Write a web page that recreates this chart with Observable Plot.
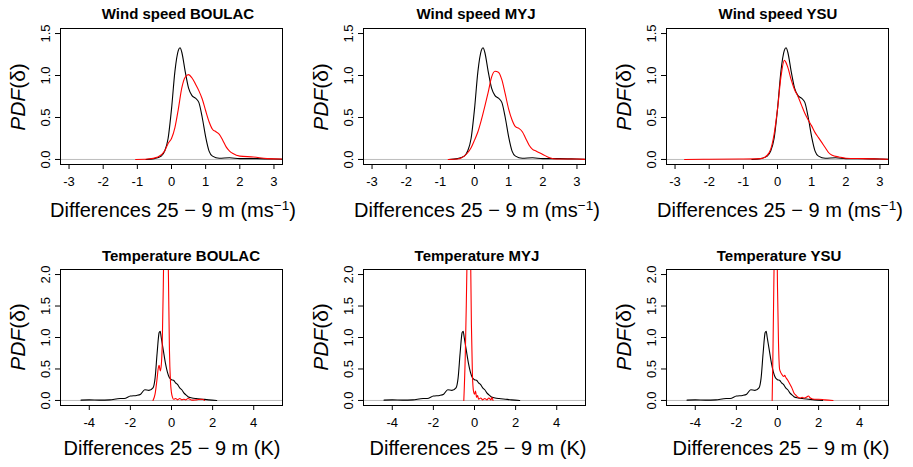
<!DOCTYPE html>
<html><head><meta charset="utf-8">
<script src="https://cdn.jsdelivr.net/npm/d3@7"></script>
<script src="https://cdn.jsdelivr.net/npm/@observablehq/plot@0.6"></script>
<style>
body{margin:0;background:#fff;}
#fig{position:relative;width:913px;height:467px;font-family:"Liberation Sans",Arial,Helvetica,sans-serif;color:#000;overflow:hidden;background:#fff}
.panel{position:absolute}
.title{position:absolute;font-weight:bold;font-size:15px;white-space:nowrap;transform:translate(-50%,-50%);line-height:1}
.xlab{position:absolute;font-size:20px;white-space:nowrap;transform:translate(-50%,-50%);line-height:1}
.xlab sup{font-size:0.68em;vertical-align:0.55em;line-height:0}
.ylab{position:absolute;font-size:21px;white-space:nowrap;transform:translate(-50%,-50%) rotate(-90deg);line-height:1}
</style></head><body><div id="fig"></div><script>
// ---- data ----
const titlesWind = ["Wind speed BOULAC", "Wind speed MYJ", "Wind speed YSU"];
const titlesTemp = ["Temperature BOULAC", "Temperature MYJ", "Temperature YSU"];
const windTicksX = [-3, -2, -1, 0, 1, 2, 3];
const windTicksY = [0, 0.5, 1, 1.5];
const tempTicksX = [-4, -2, 0, 2, 4];
const tempTicksY = [0, 0.5, 1, 1.5, 2];

// observed wind difference PDF (black)
const windObsX = [-0.75,-0.5,-0.3,-0.2,-0.1,0.0,0.1,0.2,0.25,0.3,0.4,0.5,0.6,0.7,0.8,0.9,1.0,1.1,1.2,1.4,1.7,2.0,2.5,3.0,3.3];
const windObsY = [0,0.01,0.04,0.1,0.25,0.6,1.05,1.3,1.33,1.28,1.05,0.85,0.76,0.73,0.68,0.5,0.27,0.1,0.04,0.015,0.02,0.01,0.01,0.005,0.002];
// modelled wind (red)
const windBoulacX = [-1.05,-0.7,-0.4,-0.2,-0.1,0.0,0.1,0.2,0.3,0.4,0.5,0.6,0.7,0.8,0.9,1.0,1.1,1.2,1.3,1.4,1.5,1.6,1.7,1.8,2.0,2.4,2.8,3.3];
const windBoulacY = [0,0.005,0.03,0.1,0.19,0.25,0.38,0.6,0.85,0.98,1.01,0.97,0.9,0.82,0.72,0.58,0.45,0.36,0.33,0.3,0.23,0.15,0.1,0.07,0.04,0.03,0.01,0.005];
const windMyjX = [-0.77,-0.5,-0.3,-0.2,-0.1,0.0,0.1,0.2,0.3,0.4,0.5,0.6,0.7,0.8,0.9,1.0,1.1,1.2,1.3,1.4,1.5,1.6,1.7,1.8,1.9,2.0,2.2,2.4,3.0,3.3];
const windMyjY = [0,0.005,0.04,0.08,0.14,0.23,0.33,0.47,0.63,0.8,0.98,1.05,1.04,0.95,0.78,0.6,0.47,0.39,0.37,0.33,0.25,0.17,0.12,0.1,0.08,0.06,0.02,0.005,0.005,0];
const windYsuX = [-2.72,-2.0,-1.0,-0.5,-0.3,-0.2,-0.1,0.0,0.1,0.2,0.3,0.4,0.5,0.6,0.7,0.8,0.9,1.0,1.1,1.2,1.3,1.4,1.5,1.6,1.8,2.0,2.5,3.0,3.3];
const windYsuY = [0,0.003,0.005,0.01,0.05,0.12,0.3,0.6,0.98,1.18,1.1,0.95,0.83,0.75,0.65,0.55,0.47,0.4,0.32,0.26,0.2,0.14,0.08,0.05,0.03,0.015,0.01,0.005,0.003];

// observed temperature difference PDF (black)
const tempObsX = [-4.4,-4.0,-3.5,-3.0,-2.5,-2.3,-2.0,-1.7,-1.5,-1.3,-1.1,-0.9,-0.8,-0.7,-0.6,-0.55,-0.5,-0.4,-0.3,-0.2,-0.1,0.0,0.1,0.2,0.3,0.4,0.5,0.6,0.7,0.8,1.0,1.2,1.5,1.8,2.2];
const tempObsY = [0.005,0.01,0.005,0.01,0.03,0.03,0.07,0.08,0.1,0.17,0.16,0.2,0.35,0.75,1.08,1.1,1.0,0.8,0.6,0.45,0.36,0.33,0.32,0.28,0.25,0.2,0.17,0.12,0.09,0.06,0.04,0.03,0.02,0.01,0];
// modelled temperature (red)
const tempBoulacX = [-0.9,-0.8,-0.7,-0.65,-0.6,-0.55,-0.5,-0.45,-0.4,-0.35,-0.3,-0.2,-0.15,-0.1,-0.05,0.0,0.05,0.1,0.2,0.3,0.4,0.5,0.6,0.7,0.8,1.0,1.2,1.5,1.6];
const tempBoulacY = [0,0.1,0.35,0.5,0.56,0.47,0.55,0.9,1.8,3.0,4.0,3.0,2.0,0.8,0.3,0.12,0.05,0.02,0.03,0.01,0.03,0.01,0.02,0.01,0.03,0.005,0.01,0.02,0];
const tempMyjX = [-0.52,-0.45,-0.4,-0.35,-0.3,-0.25,-0.2,-0.15,-0.1,-0.05,0.0,0.05,0.1,0.15,0.2,0.3,0.4,0.5,0.6,0.7,0.8,0.85,0.9];
const tempMyjY = [0,0.7,1.5,2.5,3.5,4.0,2.6,1.2,0.4,0.15,0.1,0.15,0.05,0.08,0.02,0.04,0.01,0.03,0.01,0.04,0.01,0.05,0];
const tempYsuX = [-0.26,-0.22,-0.18,-0.14,-0.1,-0.05,0.0,0.05,0.1,0.15,0.2,0.3,0.35,0.4,0.5,0.6,0.7,0.8,0.9,1.0,1.1,1.2,1.3,1.4,1.5,1.6,1.8,2.0,2.3,2.7];
const tempYsuY = [0,0.8,1.8,2.8,4.0,3.2,1.8,0.9,0.5,0.45,0.42,0.38,0.4,0.37,0.32,0.26,0.2,0.12,0.08,0.05,0.04,0.05,0.04,0.05,0.07,0.04,0.02,0.02,0.01,0];

const windModels = [[windBoulacX, windBoulacY], [windMyjX, windMyjY], [windYsuX, windYsuY]];
const tempModels = [[tempBoulacX, tempBoulacY], [tempMyjX, tempMyjY], [tempYsuX, tempYsuY]];

// ---- layout ----
const fig = document.getElementById("fig");
const boxLefts = [60, 363, 666];
const boxW = 222, boxH = 136;
const rows = [
  {top: 28, xDomain: [-3.25, 3.25], yDomain: [-0.06, 1.56], xTicks: windTicksX, yTicks: windTicksY,
   obs: [windObsX, windObsY], models: windModels, titles: titlesWind, titleY: 13,
   titleX: [178, 476, 778], xlabX: [173, 477, 780], xlabY: 210, ylabY: 97,
   xlab: 'Differences 25 \u2212 9 m (ms<sup>\u22121</sup>)'},
  {top: 269, xDomain: [-5.4, 5.4], yDomain: [-0.08, 2.08], xTicks: tempTicksX, yTicks: tempTicksY,
   obs: [tempObsX, tempObsY], models: tempModels, titles: titlesTemp, titleY: 255,
   titleX: [181, 477, 779], xlabX: [172, 478, 781], xlabY: 448, ylabY: 337,
   xlab: 'Differences 25 \u2212 9 m (K)'}
];
const toRows = (xs, ys) => xs.map((x, i) => ({x, y: ys[i]}));
const mL = 34, mR = 3, mT = 3, mB = 30;
const tickFont = 13;

rows.forEach(r => {
  boxLefts.forEach((bl, c) => {
    const obs = toRows(r.obs[0], r.obs[1]);
    const mod = toRows(r.models[c][0], r.models[c][1]);
    const svg = Plot.plot({
      width: boxW + mL + mR, height: boxH + mT + mB,
      marginLeft: mL, marginRight: mR, marginTop: mT, marginBottom: mB,
      x: {domain: r.xDomain, axis: null}, y: {domain: r.yDomain, axis: null},
      style: {fontFamily: '"Liberation Sans",Arial,Helvetica,sans-serif', color: "#000", background: "transparent", overflow: "visible"},
      marks: [
        Plot.ruleY([0], {stroke: "#bdbdbd", strokeWidth: 1}),
        Plot.line(obs, {x: "x", y: "y", stroke: "#000", strokeWidth: 1.1, curve: "monotone-x", clip: true}),
        Plot.line(mod, {x: "x", y: "y", stroke: "#ff0000", strokeWidth: 1.1, curve: "monotone-x", clip: true}),
        Plot.frame({stroke: "#000", strokeWidth: 1}),
        Plot.axisX({ticks: r.xTicks, tickSize: 5, tickPadding: 7.5, tickFormat: d => String(d), label: null, fontSize: tickFont, fill: "#000"}),
        Plot.axisY({ticks: r.yTicks, tickSize: 5, tickPadding: 5.5, tickRotate: -90, tickFormat: d3.format(".1f"), label: null, fontSize: tickFont, fill: "#000"})
      ]
    });
    svg.classList.add("panel");
    svg.style.left = (bl - mL) + "px";
    svg.style.top = (r.top - mT) + "px";
    fig.appendChild(svg);

    const t = document.createElement("div");
    t.className = "title"; t.textContent = r.titles[c];
    t.style.left = r.titleX[c] + "px"; t.style.top = r.titleY + "px";
    fig.appendChild(t);

    const xl = document.createElement("div");
    xl.className = "xlab"; xl.innerHTML = r.xlab;
    xl.style.left = r.xlabX[c] + "px"; xl.style.top = r.xlabY + "px";
    fig.appendChild(xl);

    const yl = document.createElement("div");
    yl.className = "ylab"; yl.innerHTML = '<i>PDF</i>(\u03b4)';
    yl.style.left = (bl - 43) + "px"; yl.style.top = r.ylabY + "px";
    fig.appendChild(yl);
  });
});
</script></body></html>
